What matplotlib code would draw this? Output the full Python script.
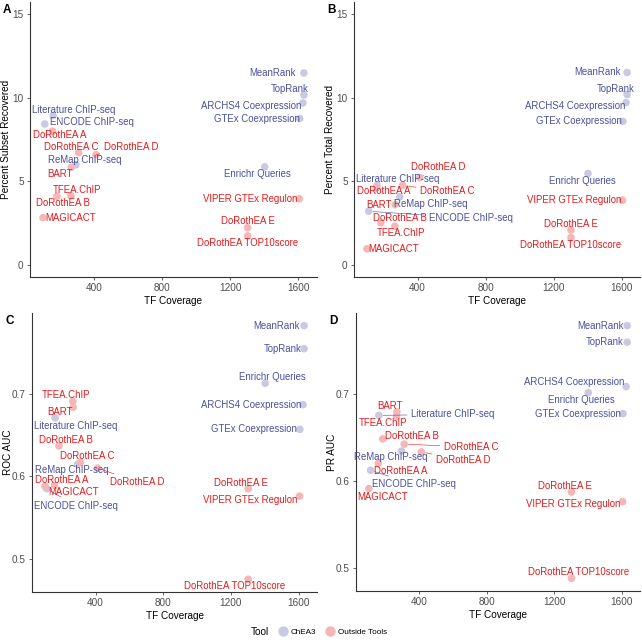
import matplotlib
matplotlib.use("Agg")
import matplotlib.pyplot as plt
from matplotlib.lines import Line2D
import numpy as np

# Data
tools = ["MeanRank", "TopRank", "ARCHS4 Coexpression", "GTEx Coexpression", "Enrichr Queries",
         "Literature ChIP-seq", "ENCODE ChIP-seq", "ReMap ChIP-seq", "VIPER GTEx Regulon",
         "DoRothEA A", "DoRothEA B", "DoRothEA C", "DoRothEA D", "DoRothEA E",
         "DoRothEA TOP10score", "BART", "TFEA.ChIP", "MAGICACT"]
group = ["ChEA3"] * 8 + ["Outside Tools"] * 10
coverage = [1632, 1632, 1626, 1607, 1402, 161, 112, 295, 1605,
            158, 184, 311, 413, 1302, 1302, 268, 266, 102]
subset_pct = [11.49, 10.17, 9.69, 8.76, 5.86, 8.94, 8.43, 5.98, 3.95,
              8.0, 4.09, 6.71, 6.59, 2.21, 1.72, 5.84, 4.13, 2.82]
total_pct = [11.52, 10.19, 9.71, 8.59, 5.46, 4.75, 3.2, 4.06, 3.86,
             4.6, 2.51, 4.75, 5.22, 2.08, 1.62, 3.6, 2.3, 0.95]
roc_auc = [0.783, 0.755, 0.687, 0.657, 0.713, 0.671, 0.585, 0.615, 0.576,
           0.589, 0.637, 0.617, 0.610, 0.585, 0.475, 0.684, 0.691, 0.588]
pr_auc = [0.778, 0.759, 0.708, 0.677, 0.701, 0.675, 0.612, 0.634, 0.576,
          0.620, 0.648, 0.642, 0.633, 0.587, 0.488, 0.679, 0.674, 0.591]

# label offsets (pixels, y up) per panel, repel-style; 3rd item = draw segment
offs_A = {"MeanRank": (-31, 0), "TopRank": (-14, 6), "ARCHS4 Coexpression": (-52, -3),
          "GTEx Coexpression": (-43, 0), "Enrichr Queries": (-7, -7), "VIPER GTEx Regulon": (-49, 0),
          "DoRothEA E": (0, 7), "DoRothEA TOP10score": (0, -7), "Literature ChIP-seq": (21, 6),
          "ENCODE ChIP-seq": (47, 2), "DoRothEA A": (7, -4), "DoRothEA C": (-7, 6),
          "DoRothEA D": (35, 8, True), "ReMap ChIP-seq": (9, 5), "BART": (-11, -7),
          "TFEA.ChIP": (6, 6), "DoRothEA B": (6, -7), "MAGICACT": (28, 0)}
offs_B = {"MeanRank": (-30, 0), "TopRank": (-11, 6), "ARCHS4 Coexpression": (-51, -3),
          "GTEx Coexpression": (-44, 0), "Enrichr Queries": (-6, -7), "VIPER GTEx Regulon": (-48, 0),
          "DoRothEA E": (0, 6), "DoRothEA TOP10score": (0, -7), "DoRothEA D": (18, 11, True),
          "Literature ChIP-seq": (21, 6), "DoRothEA A": (7, -3), "DoRothEA C": (45, -6, True),
          "ReMap ChIP-seq": (31, -7), "BART": (-16, 0), "ENCODE ChIP-seq": (102, -7, True),
          "DoRothEA B": (19, 5), "TFEA.ChIP": (6, -7), "MAGICACT": (27, 0)}
offs_C = {"MeanRank": (-28, 0), "TopRank": (-21, 0), "Enrichr Queries": (7, 6),
          "ARCHS4 Coexpression": (-52, 0), "GTEx Coexpression": (-46, 0), "TFEA.ChIP": (-7, 6),
          "BART": (-13, -5), "Literature ChIP-seq": (21, -8), "DoRothEA B": (7, 6),
          "DoRothEA C": (7, 6), "ReMap ChIP-seq": (-6, -6), "DoRothEA D": (40, -14, True),
          "DoRothEA A": (7, 5), "MAGICACT": (29, -6), "ENCODE ChIP-seq": (29, -17, True),
          "DoRothEA E": (-7, 6), "VIPER GTEx Regulon": (-49, -4), "DoRothEA TOP10score": (-14, -7)}
offs_D = {"MeanRank": (-27, 0), "TopRank": (-22, 0), "ARCHS4 Coexpression": (-52, 5),
          "Enrichr Queries": (-7, -7), "GTEx Coexpression": (-45, 0), "BART": (-7, 6),
          "Literature ChIP-seq": (74, 1, True), "TFEA.ChIP": (-14, -7), "DoRothEA B": (29, 3),
          "DoRothEA C": (67, -3, True), "ReMap ChIP-seq": (-11, -6), "DoRothEA D": (42, -8, True),
          "DoRothEA A": (22, -8), "ENCODE ChIP-seq": (43, -14, True), "MAGICACT": (14, -8),
          "DoRothEA E": (-7, 6), "VIPER GTEx Regulon": (-49, -2), "DoRothEA TOP10score": (7, 6)}

text_col = {"ChEA3": "#4a50a0", "Outside Tools": "#e31a1c"}
pt_col = {"ChEA3": "#c9cae2", "Outside Tools": "#f5b6b6"}

plt.rcParams['font.family'] = ['Liberation Sans', 'DejaVu Sans']

W, H = 642, 640
fig = plt.figure(figsize=(W / 100, H / 100), dpi=100)

panels = [
    ("A", subset_pct, "Percent Subset Recovered", offs_A, [0.0467, 0.567, 0.447, 0.430], (0, 15)),
    ("B", total_pct, "Percent Total Recovered", offs_B, [0.5514, 0.567, 0.4456, 0.430], (0, 15)),
    ("C", roc_auc, "ROC AUC", offs_C, [0.050, 0.0750, 0.4438, 0.436], None),
    ("D", pr_auc, "PR AUC", offs_D, [0.5545, 0.0766, 0.4425, 0.4344], None),
]

for letter, vals, ylab, offs, rect, ylim in panels:
    ax = fig.add_axes(rect)
    cols = [pt_col[g] for g in group]
    ax.scatter(coverage, vals, s=30, c=cols, edgecolors='none', zorder=2)
    for name, g, x, y in zip(tools, group, coverage, vals):
        o = offs[name]
        seg = len(o) > 2
        ax.annotate(name, (x, y), xytext=(o[0], o[1]), textcoords='offset pixels',
                    ha='center', va='center', fontsize=6.9, color=text_col[g], zorder=3,
                    arrowprops=dict(arrowstyle='-', color=text_col[g], lw=0.4,
                                    shrinkA=1, shrinkB=3) if seg else None)
    ax.set_xticks([400, 800, 1200, 1600])
    if ylim is not None:
        lo, hi = ylim
        pad = (hi - lo) * 0.05
        ax.set_ylim(lo - pad, hi + pad)
        ax.set_yticks([0, 5, 10, 15])
    else:
        ax.set_yticks([0.5, 0.6, 0.7])
        ax.set_yticklabels(["0.5", "0.6", "0.7"])
    for s in ['top', 'right']:
        ax.spines[s].set_visible(False)
    for s in ['left', 'bottom']:
        ax.spines[s].set_color('#333333')
        ax.spines[s].set_linewidth(0.8)
    ax.tick_params(labelsize=7.2, colors='#4d4d4d', length=2.5, width=0.6, pad=2)
    ax.set_xlabel("TF Coverage", fontsize=7.2, labelpad=2)
    ax.set_ylabel(ylab, fontsize=7.2, va='center')
    # y label centre sits ~24 px left of the spine in the reference
    ax.yaxis.set_label_coords(-24 / (rect[2] * W), 0.5)
    fig.text(rect[0] - 0.042, rect[1] + rect[3] - 0.012, letter, fontsize=8.5,
             fontweight='bold', ha='left', va='center')

# legend at bottom
fig.text(0.405, 0.013, "Tool", fontsize=7.2, ha='center', va='center')
handles = [Line2D([], [], marker='o', linestyle='none', markersize=7.5,
                  markerfacecolor=pt_col[g], markeredgecolor='none') for g in ["ChEA3", "Outside Tools"]]
fig.legend(handles, ["ChEA3", "Outside Tools"], loc='center left', bbox_to_anchor=(0.428, 0.013),
           ncol=2, frameon=False, fontsize=5.9, handletextpad=0.35, columnspacing=1.1,
           borderaxespad=0, handlelength=1.2)

fig.savefig("out.png", dpi=100)
